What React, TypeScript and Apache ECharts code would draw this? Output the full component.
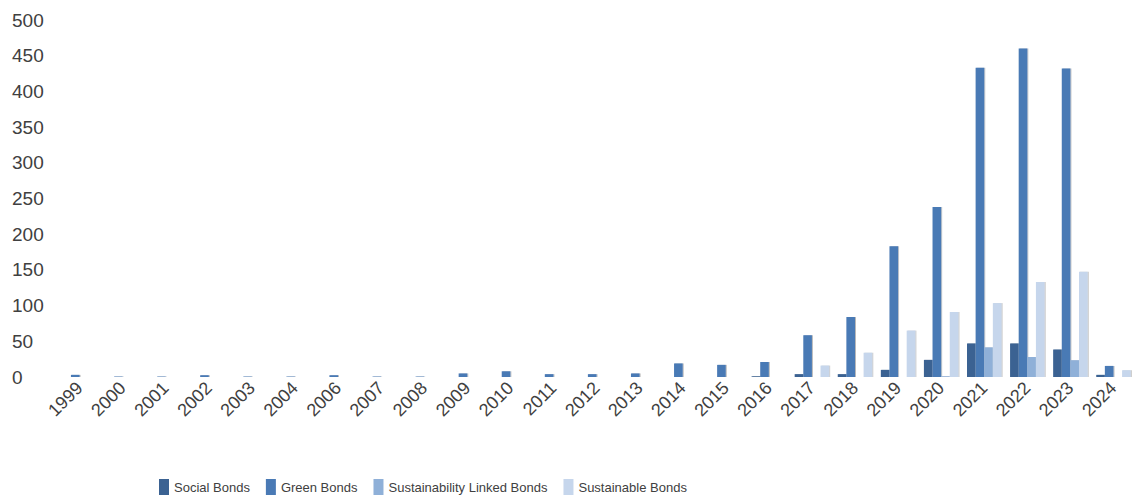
import React, { useEffect, useRef } from "react";
import * as echarts from "echarts";

const years = ["1999", "2000", "2001", "2002", "2003", "2004", "2006", "2007", "2008", "2009", "2010", "2011", "2012", "2013", "2014", "2015", "2016", "2017", "2018", "2019", "2020", "2021", "2022", "2023", "2024"];
const seriesNames = ["Social Bonds", "Green Bonds", "Sustainability Linked Bonds", "Sustainable Bonds"];
const socialBonds = [0, 0, 0, 0, 0, 0, 0, 0, 0, 0, 0, 0, 0, 0, 0, 0, 1, 4, 4, 10, 24, 47, 47, 38.5, 3];
const greenBonds = [3, 0.6, 0.6, 2.5, 0.6, 0.6, 2.5, 0.6, 0.6, 5, 8, 4, 4, 5, 19, 17, 21, 58.5, 84, 183, 238, 433, 460, 432, 15.5];
const sustainabilityLinkedBonds = [0, 0, 0, 0, 0, 0, 0, 0, 0, 0, 0, 0, 0, 0, 0, 0, 0, 0, 0, 0, 1, 41.5, 28, 23.5, 0];
const sustainableBonds = [0, 0, 0, 0, 0, 0, 0, 0, 0, 0, 0, 0, 0, 0, 0, 0, 0, 16, 34, 65, 91, 103.5, 133, 147.5, 9.5];
const yTicks = [0, 500, 50];

const FONT = "'Liberation Sans', Arial, sans-serif";
const COLORS = ["#3b6292", "#4a7ab5", "#8fb0d8", "#c6d6ec"];

export default function App() {
  const ref = useRef<HTMLDivElement>(null);
  useEffect(() => {
    if (!ref.current) return;
    const chart = echarts.init(ref.current, null, { renderer: "svg" });
    const shadow = { shadowColor: "rgba(0,0,0,0.28)", shadowBlur: 1.5, shadowOffsetX: 1 };
    const values = [socialBonds, greenBonds, sustainabilityLinkedBonds, sustainableBonds];
    chart.setOption({
      animation: false,
      backgroundColor: "#ffffff",
      grid: { left: 58, right: -6, top: 20, bottom: 120 },
      legend: {
        left: 154,
        top: 474,
        itemWidth: 10,
        itemHeight: 16,
        itemGap: 16,
        icon: "rect",
        textStyle: { fontFamily: FONT, fontSize: 13, color: "#404040" },
        data: seriesNames,
      },
      xAxis: {
        type: "category",
        data: years,
        axisLine: { show: false },
        axisTick: { show: false },
        axisLabel: {
          rotate: 45,
          interval: 0,
          margin: 8,
          fontFamily: FONT,
          fontSize: 18,
          color: "#404040",
        },
      },
      yAxis: {
        type: "value",
        min: yTicks[0],
        max: yTicks[1],
        interval: yTicks[2],
        splitLine: { show: false },
        axisLine: { show: false },
        axisTick: { show: false },
        axisLabel: {
          align: "left",
          margin: 46,
          fontFamily: FONT,
          fontSize: 19,
          color: "#404040",
        },
      },
      series: seriesNames.map((n, i) => ({
        name: n,
        type: "bar",
        data: values[i],
        barGap: "0%",
        barCategoryGap: "20%",
        itemStyle: { color: COLORS[i], ...shadow },
      })),
    });
    return () => chart.dispose();
  }, []);
  return (
    <div
      ref={ref}
      style={{ position: "fixed", left: 0, top: 0, width: 1135, height: 497, background: "#fff" }}
    />
  );
}
